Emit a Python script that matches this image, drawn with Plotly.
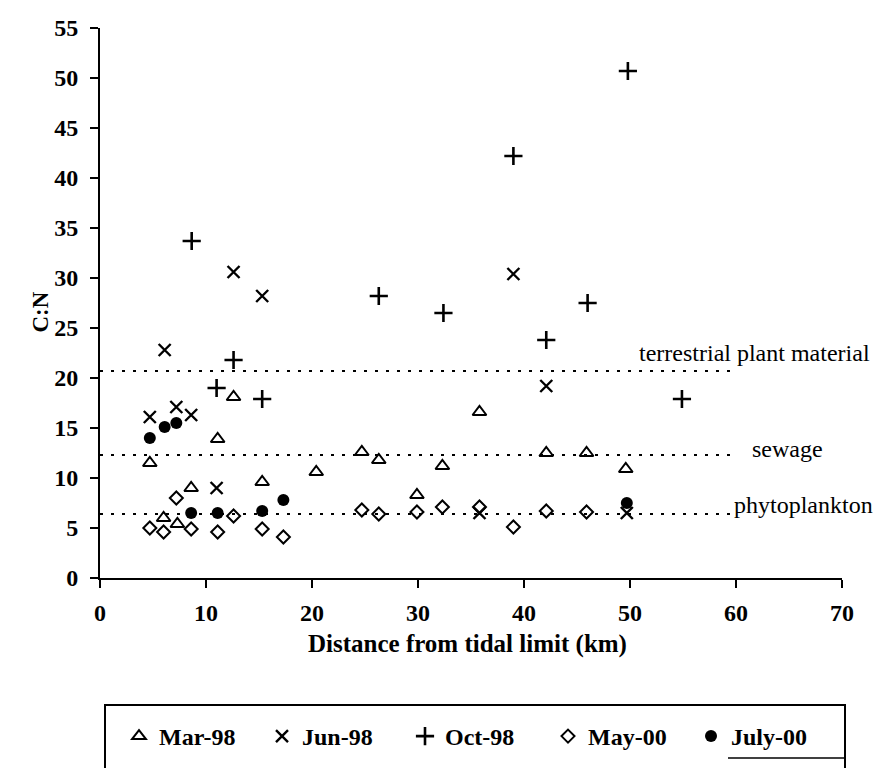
import plotly.graph_objects as go

# ---- data ----
mar98_x = [4.7, 6.0, 7.3, 8.6, 11.1, 12.6, 15.3, 20.4, 24.7, 26.3, 29.9, 32.3, 35.8, 42.1, 45.9, 49.6]
mar98_y = [11.5, 6.0, 5.4, 9.0, 13.9, 18.1, 9.6, 10.6, 12.6, 11.8, 8.3, 11.2, 16.6, 12.5, 12.5, 10.9]

jun98_x = [4.7, 6.1, 7.2, 8.6, 11.0, 12.6, 15.3, 35.8, 39.0, 42.1, 49.7]
jun98_y = [16.1, 22.8, 17.1, 16.3, 9.0, 30.6, 28.2, 6.5, 30.4, 19.2, 6.5]

oct98_x = [8.65, 11.0, 12.6, 15.3, 26.3, 32.4, 39.0, 42.1, 46.0, 49.8, 54.9]
oct98_y = [33.7, 19.0, 21.8, 17.9, 28.2, 26.5, 42.2, 23.8, 27.5, 50.7, 17.9]

may00_x = [4.7, 6.0, 7.2, 8.6, 11.1, 12.6, 15.3, 17.3, 24.7, 26.3, 29.9, 32.3, 35.8, 39.0, 42.1, 45.9]
may00_y = [5.0, 4.6, 8.0, 4.9, 4.6, 6.2, 4.9, 4.1, 6.8, 6.4, 6.6, 7.1, 7.1, 5.1, 6.7, 6.6]

jul00_x = [4.7, 6.1, 7.2, 8.6, 11.1, 15.3, 17.3, 49.7]
jul00_y = [14.0, 15.1, 15.5, 6.5, 6.5, 6.7, 7.8, 7.5]

ref_names = ["terrestrial plant material", "sewage", "phytoplankton"]
ref_levels = [20.7, 12.3, 6.4]
ref_x = [0, 60]

x_ticks = [0, 10, 20, 30, 40, 50, 60, 70]
y_ticks = [0, 5, 10, 15, 20, 25, 30, 35, 40, 45, 50, 55]

FONT = "Liberation Serif"

fig = go.Figure()

# reference dotted lines
for lvl in ref_levels:
    fig.add_trace(go.Scatter(
        x=ref_x, y=[lvl, lvl], mode="lines", showlegend=False, hoverinfo="skip",
        line=dict(color="black", width=2, dash="3px,8px")))

series = [
    ("Mar-98", mar98_x, mar98_y, "triangle-up-open", 12, 2),
    ("Jun-98", jun98_x, jun98_y, "x-thin-open", 12, 2.4),
    ("Oct-98", oct98_x, oct98_y, "cross-thin-open", 13, 2.6),
    ("May-00", may00_x, may00_y, "diamond-open", 10, 2),
    ("July-00", jul00_x, jul00_y, "circle", 12, 0),
]
for name, xs, ys, sym, size, lw in series:
    fig.add_trace(go.Scatter(
        x=xs, y=ys, mode="markers", name=name,
        marker=dict(symbol=sym, size=size, color="black",
                    line=dict(color="black", width=lw))))

axis_common = dict(
    showgrid=False, zeroline=False, showline=True, linecolor="black", linewidth=2,
    ticks="outside", ticklen=8, tickwidth=2, tickcolor="black",
    tickfont=dict(family=FONT, size=24, color="black", weight="bold"),
)

fig.update_xaxes(range=[0, 70], tickvals=x_ticks, ticktext=[str(v) for v in x_ticks],
                 ticklabelstandoff=4, **axis_common)
fig.update_yaxes(range=[0, 55], tickvals=y_ticks, ticktext=[str(v) for v in y_ticks],
                 ticklabelstandoff=7, **axis_common)

annotations = [
    dict(text="<b>Distance from tidal limit (km)</b>", x=(467 - 100) / 742, y=(578 - 660) / 550,
         xref="paper", yref="paper",
         showarrow=False, font=dict(family=FONT, size=25, color="black")),
    dict(text="<b>C:N</b>", x=(25 - 100) / 742, y=(578 - 312) / 550, xref="paper", yref="paper",
         textangle=-90,
         showarrow=False, font=dict(family=FONT, size=23, color="black")),
    dict(text=ref_names[0], x=(872 - 100) / 742, y=22.5, xref="paper", yref="y",
         xanchor="right", showarrow=False, font=dict(family=FONT, size=24, color="black")),
    dict(text=ref_names[1], x=(825 - 100) / 742, y=12.9, xref="paper", yref="y",
         xanchor="right", showarrow=False, font=dict(family=FONT, size=24, color="black")),
    dict(text=ref_names[2], x=(875 - 100) / 742, y=7.3, xref="paper", yref="y",
         xanchor="right", showarrow=False, font=dict(family=FONT, size=24, color="black")),
]

shapes = [
    dict(type="rect", xref="paper", yref="paper",
         x0=(105 - 100) / 742, x1=(845 - 100) / 742,
         y0=(578 - 705) / 550, y1=(578 - 820) / 550,
         line=dict(color="black", width=2), fillcolor="rgba(0,0,0,0)"),
    dict(type="line", xref="paper", yref="paper",
         x0=(728 - 100) / 742, x1=(845 - 100) / 742,
         y0=(578 - 758) / 550, y1=(578 - 758) / 550,
         line=dict(color="black", width=1.5)),
]

fig.update_layout(
    width=878, height=768,
    margin=dict(l=100, r=36, t=28, b=190, autoexpand=False),
    paper_bgcolor="white", plot_bgcolor="white",
    font=dict(family=FONT, color="black"),
    annotations=annotations, shapes=shapes,
    legend=dict(orientation="h", x=(119 - 100) / 742, xanchor="left",
                y=(578 - 714) / 550, yanchor="top",
                entrywidth=98, entrywidthmode="pixels",
                bgcolor="rgba(0,0,0,0)", borderwidth=0,
                font=dict(family=FONT, size=24, color="black", weight="bold")),
)

fig.write_html("out.html")
